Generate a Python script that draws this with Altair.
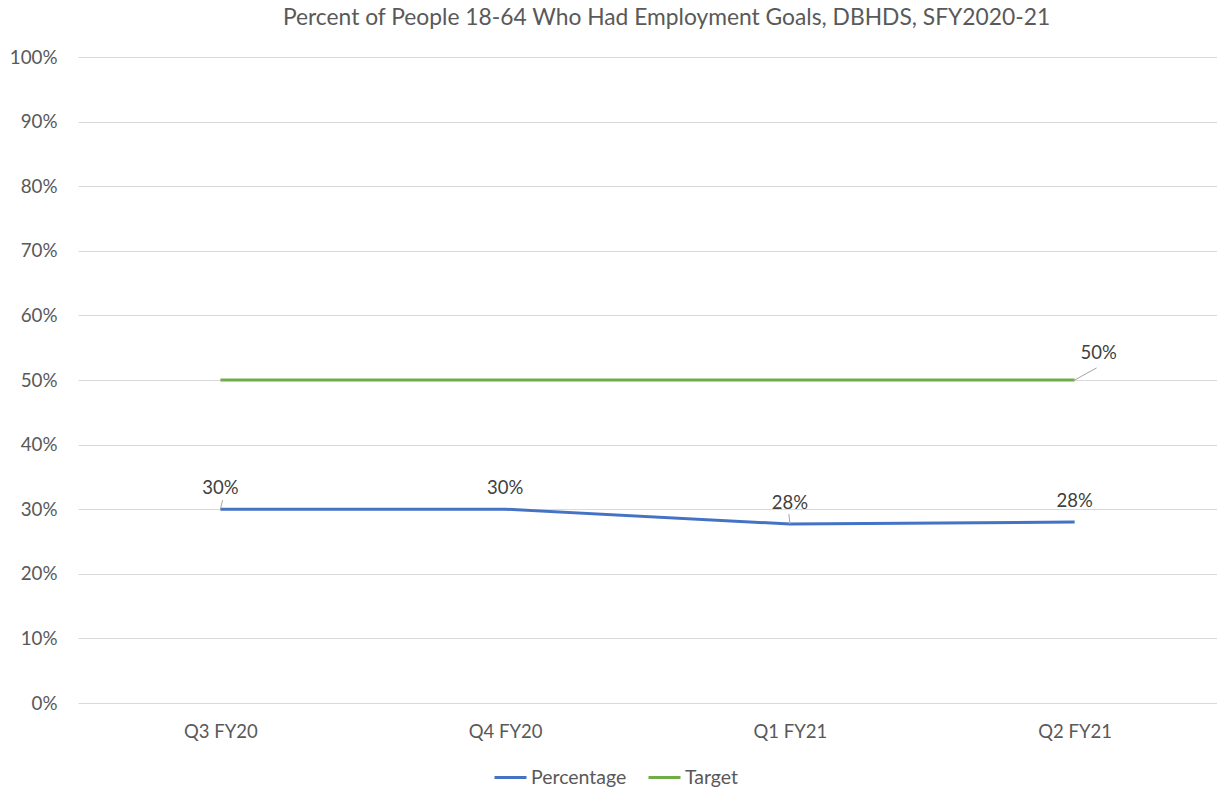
import altair as alt
import pandas as pd

quarters = ["Q3 FY20", "Q4 FY20", "Q1 FY21", "Q2 FY21"]
percentage = [0.300, 0.300, 0.277, 0.280]
target = [0.50, 0.50, 0.50, 0.50]
series_names = ["Percentage", "Target"]
series_colors = ["#4472C4", "#70AD47"]
y_ticks = [i / 10 for i in range(11)]

rows = []
for q, p, t in zip(quarters, percentage, target):
    rows.append({"quarter": q, "series": "Percentage", "value": p})
    rows.append({"quarter": q, "series": "Target", "value": t})
df = pd.DataFrame(rows)

FONT = "Lato"
GREY = "#595959"
LABEL = "#404040"
GRID = "#D9D9D9"
LEADER = "#A6A6A6"

x_enc = alt.X(
    "quarter:N",
    sort=quarters,
    title=None,
    axis=alt.Axis(
        labelFontSize=18.5, labelColor=GREY, labelFont=FONT, labelPadding=19,
        ticks=False, domain=False, grid=False, labelAngle=0,
    ),
)
y_enc = alt.Y(
    "value:Q",
    title=None,
    scale=alt.Scale(domain=[0, 1], nice=False),
    axis=alt.Axis(
        values=y_ticks, format=".0%", labelFontSize=18.8, labelColor=GREY,
        labelFont=FONT, labelPadding=21, ticks=False, domain=False,
        gridColor=GRID, gridWidth=1,
    ),
)

base = alt.Chart(df)

lines = base.mark_line(strokeWidth=3).encode(
    x=x_enc,
    y=y_enc,
    color=alt.Color(
        "series:N",
        scale=alt.Scale(domain=series_names, range=series_colors),
        legend=alt.Legend(
            title=None, orient="none", direction="horizontal",
            legendX=415, legendY=703, symbolType="stroke",
            symbolStrokeWidth=3, symbolSize=1024, labelFontSize=19.5,
            labelColor=GREY, labelFont=FONT, columnPadding=15,
            labelOffset=3, padding=0,
        ),
    ),
)

pct = base.transform_filter(alt.datum.series == "Percentage")

pct_labels = pct.mark_text(
    dy=-21, fontSize=18.5, font=FONT, color=LABEL
).encode(x=x_enc, y=y_enc, text=alt.Text("value:Q", format=".0%"))

# small leader lines (as in the Excel original)
leader_q3 = pct.transform_filter(alt.datum.quarter == quarters[0]).mark_point(
    shape="M0 0 L0.25 -1", size=324, filled=False, stroke=LEADER, strokeWidth=1,
    opacity=1,
).encode(x=x_enc, y=y_enc)

leader_q1 = pct.transform_filter(alt.datum.quarter == quarters[2]).mark_point(
    shape="M0 0 L-0.1 -1", size=400, filled=False, stroke=LEADER, strokeWidth=1,
    opacity=1,
).encode(x=x_enc, y=y_enc)

tgt = base.transform_filter(
    (alt.datum.series == "Target") & (alt.datum.quarter == quarters[-1])
)

tgt_labels = tgt.mark_text(
    dx=24, dy=-27, fontSize=18.5, font=FONT, color=LABEL
).encode(x=x_enc, y=y_enc, text=alt.Text("value:Q", format=".0%"))

leader_tgt = tgt.mark_point(
    shape="M0 0 L1 -0.55", size=1936, filled=False, stroke=LEADER, strokeWidth=1,
    opacity=1,
).encode(x=x_enc, y=y_enc)

chart = (
    alt.layer(lines, leader_q3, leader_q1, leader_tgt, pct_labels, tgt_labels)
    .properties(
        width=1139,
        height=646,
        autosize=alt.AutoSizeParams(type="none"),
        padding={"left": 78, "top": 57, "right": 0, "bottom": 85},
        title=alt.TitleParams(
            "Percent of People 18-64 Who Had Employment Goals, DBHDS, SFY2020-21",
            fontSize=22.8, font=FONT, color=GREY, fontWeight="normal",
            anchor="middle", offset=18, dx=19,
        ),
    )
    .configure_view(stroke=None)
)

chart.save("out.html", embed_options={"renderer": "svg", "actions": False})
